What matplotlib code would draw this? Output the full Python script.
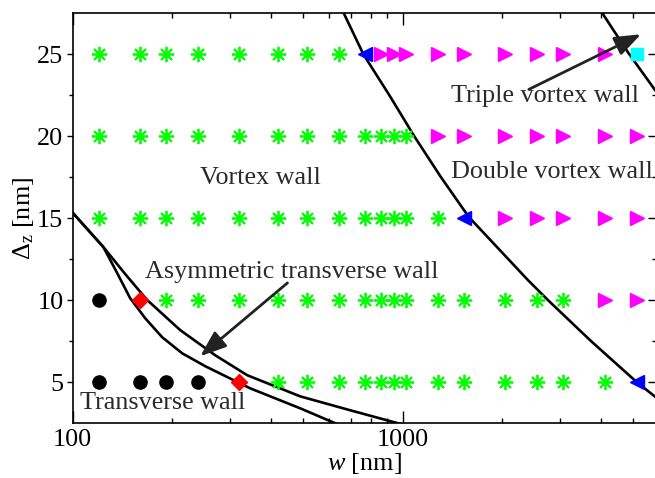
import numpy as np
import matplotlib
matplotlib.use("Agg")
import matplotlib.pyplot as plt
from matplotlib.ticker import LogLocator, NullFormatter, FixedLocator, FixedFormatter

plt.rcParams['font.family'] = ['Liberation Serif', 'DejaVu Serif']
plt.rcParams['mathtext.fontset'] = 'custom'
plt.rcParams['mathtext.rm'] = 'Liberation Serif'
plt.rcParams['mathtext.it'] = 'Liberation Serif:italic'

# simulated strip widths [nm] and thicknesses [nm]
widths = [120, 160, 192, 240, 320, 420, 512, 640, 768, 860, 940, 1024,
          1280, 1536, 2048, 2560, 3072, 4096, 5120]
deltas = [5, 10, 15, 20, 25]
# phase per width for every thickness
# T transverse, A asymmetric transverse, V vortex, B boundary, D double vortex, C triple vortex
phases = {
    5:  "TTTTAVVVVVVVVVVVVVB",
    10: "TAVVVVVVVVVVVVVVVDD",
    15: "VVVVVVVVVVVVVBDDDDD",
    20: "VVVVVVVVVVVVDDDDDDD",
    25: "VVVVVVVVBDDDDDDDDDC",
}

# phase boundaries
vortex_double_w = [662, 761, 913, 1087, 1304, 1586, 2396, 2755, 3721, 5131, 5860]
vortex_double_d = [27.55, 25.0, 22.49, 19.98, 17.54, 15.09, 11.24, 10.02, 7.52, 5.0, 4.08]
triple_w = [4018, 4819, 5860]
triple_d = [27.55, 25.12, 22.74]
transverse_lo_w = [100, 124, 136.5, 149.4, 166, 186.9, 214.9, 252.5, 345.7, 490.2, 630.4, 745.6]
transverse_lo_d = [15.35, 13.25, 11.67, 10.14, 8.91, 7.75, 6.77, 5.98, 4.63, 3.41, 2.47, 2.0]
transverse_hi_w = [100, 124, 144.3, 168.3, 212.1, 270.6, 338.5, 490.2, 695.5, 986, 1134]
transverse_hi_d = [15.35, 13.25, 11.61, 10.02, 8.18, 6.65, 5.43, 4.14, 3.29, 2.46, 2.25]

styles = {
    'T': dict(marker='o', color='black', ms=9.5, mec='black'),
    'A': dict(marker='D', color='#ff0000', ms=8, mec='#ff0000'),
    'V': dict(marker=(8, 2, 0), color='#00ff00', ms=11, mew=1.3, mec='#00ff00'),
    'B': dict(marker='<', color='#0000ff', ms=10, mec='#0000ff'),
    'D': dict(marker='>', color='#ff00ff', ms=10, mec='#ff00ff'),
    'C': dict(marker='s', color='#00ffff', ms=9, mec='#00ffff'),
}

fig = plt.figure(figsize=(6.55, 4.78), dpi=100)
ax = fig.add_axes([72.5 / 655, 1 - 423.3 / 478, (656 - 72.5) / 655, (423.3 - 13.3) / 478])

for d in deltas:
    for w, p in zip(widths, phases[d]):
        ax.plot([w], [d], linestyle='none', zorder=3, **styles[p])

lc = 'black'
ax.plot(vortex_double_w, vortex_double_d, color=lc, lw=1.9, zorder=2)
ax.plot(triple_w, triple_d, color=lc, lw=1.9, zorder=2)
ax.plot(transverse_lo_w, transverse_lo_d, color=lc, lw=1.9, zorder=2)
ax.plot(transverse_hi_w, transverse_hi_d, color=lc, lw=1.9, zorder=2)

ax.set_xscale('log')
ax.set_xlim(100, 5860)
ax.set_ylim(2.5, 27.5)

tc = '#2a2a2a'
fs = 18.8
ax.text(166, 11.73, "Asymmetric transverse wall", fontsize=fs, color=tc, va='center')
ax.text(244, 17.48, "Vortex wall", fontsize=fs, color=tc, va='center')
ax.text(1399, 17.84, "Double vortex wall", fontsize=fs, color=tc, va='center')
ax.text(1399, 22.43, "Triple vortex wall", fontsize=fs, color=tc, va='center')
ax.text(105.4, 3.72, "Transverse wall", fontsize=fs, color=tc, va='center')

aprops = dict(arrowstyle='-|>,head_length=0.8,head_width=0.3', color='#222222',
              lw=2, mutation_scale=20, shrinkA=0, shrinkB=0)
ax.annotate("", xy=(243.8, 6.59), xytext=(448, 11.06), arrowprops=aprops)
ax.annotate("", xy=(5277, 26.22), xytext=(2413, 22.86), arrowprops=aprops)

ax.xaxis.set_major_locator(FixedLocator([100, 1000]))
ax.xaxis.set_major_formatter(FixedFormatter(["100", "1000"]))
ax.xaxis.set_minor_locator(LogLocator(base=10, subs=np.arange(2, 10)))
ax.xaxis.set_minor_formatter(NullFormatter())
ax.set_yticks([5, 10, 15, 20, 25])
ax.set_yticks([7.5, 12.5, 17.5, 22.5], minor=True)

ax.tick_params(axis='x', which='both', direction='in', top=True, labelsize=fs, pad=4)
ax.tick_params(axis='x', which='major', length=8.5, width=1)
ax.tick_params(axis='x', which='minor', length=3.6, width=1)
ax.tick_params(axis='y', which='both', direction='out', right=False, labelsize=fs, pad=2)
ax.tick_params(axis='y', which='major', length=4.5, width=1)
ax.tick_params(axis='y', which='minor', length=3.2, width=1)

sec = ax.secondary_yaxis('right')
sec.set_yticks([5, 10, 15, 20, 25])
sec.set_yticks([7.5, 12.5, 17.5, 22.5], minor=True)
sec.tick_params(axis='y', which='both', direction='in', labelright=False)
sec.tick_params(axis='y', which='major', length=6, width=1)
sec.tick_params(axis='y', which='minor', length=3, width=1)

for s in ax.spines.values():
    s.set_linewidth(1.2)
sec.spines['right'].set_linewidth(1.2)

ax.set_xlabel("$w$ [nm]", fontsize=fs, labelpad=0)
ax.set_ylabel(r"$\Delta_\mathrm{z}$ [nm]", fontsize=fs, labelpad=1)

fig.savefig("out.png", dpi=100)
